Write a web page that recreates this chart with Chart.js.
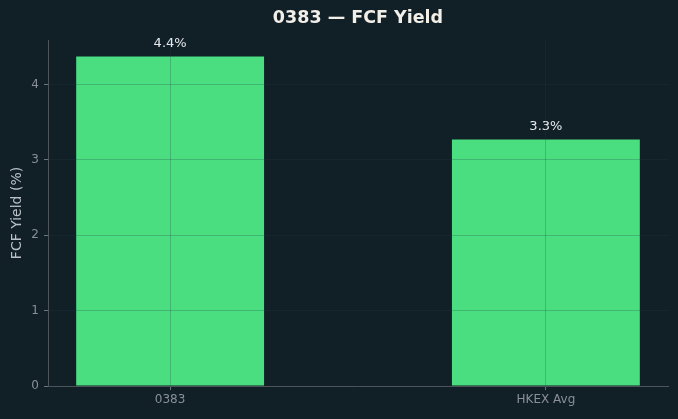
<!DOCTYPE html>
<html>
<head>
<meta charset="utf-8">
<script src="https://cdn.jsdelivr.net/npm/chart.js@4/dist/chart.umd.min.js"></script>
<style>
  html, body { margin: 0; padding: 0; background: #111f27; }
  #wrap { width: 678px; height: 419px; }
</style>
</head>
<body>
<div id="wrap"><canvas id="myChart" width="678" height="419"></canvas></div>
<script>
// chart data
const categories = ['0383', 'HKEX Avg'];
const positions = [0, 1];
const fcfYield = [4.37, 3.27];
const yTicks = [0, 1, 2, 3, 4];
const chartTitle = '0383 \u2014 FCF Yield';
const yLabel = 'FCF Yield (%)';

const fontFamily = "'DejaVu Sans', sans-serif";
const gridColor = 'rgba(40, 60, 70, 0.25)';

// titles and value labels drawn by hand
const extraText = {
    id: 'extraText',
    afterDatasetsDraw(chart) {
        const ctx = chart.ctx;
        const area = chart.chartArea;
        ctx.save();
        // value labels over bars
        ctx.font = '13px ' + fontFamily;
        ctx.fillStyle = '#e6e9ec';
        ctx.textAlign = 'center';
        ctx.textBaseline = 'bottom';
        chart.getDatasetMeta(0).data.forEach((bar, i) => {
            ctx.fillText(fcfYield[i].toFixed(1) + '%', bar.x, bar.y - 6);
        });
        // title
        ctx.font = 'bold 17.5px ' + fontFamily;
        ctx.fillStyle = '#f2efe9';
        ctx.textBaseline = 'middle';
        ctx.fillText(chartTitle, (area.left + area.right) / 2, 18);
        // y axis title
        ctx.translate(17, (area.top + area.bottom) / 2);
        ctx.rotate(-Math.PI / 2);
        ctx.font = '14px ' + fontFamily;
        ctx.fillStyle = '#b9c0c6';
        ctx.fillText(yLabel, 0, 0);
        ctx.restore();
    }
};

new Chart(document.getElementById('myChart'), {
    type: 'bar',
    data: {
        datasets: [{
            data: positions.map((x, i) => ({ x: x, y: fcfYield[i] })),
            backgroundColor: '#4ade80',
            borderWidth: 0,
            categoryPercentage: 1,
            barPercentage: 0.5,
        }]
    },
    options: {
        responsive: false,
        animation: false,
        layout: { padding: { top: 40, right: 10, left: 0, bottom: 0 } },
        plugins: {
            legend: { display: false },
            title: { display: false },
            tooltip: { enabled: false },
        },
        scales: {
            x: {
                type: 'linear',
                min: -0.325,
                max: 1.325,
                offset: false,
                afterBuildTicks: (scale) => { scale.ticks = positions.map(v => ({ value: v })); },
                afterFit: (scale) => { scale.height = 33; },
                ticks: {
                    callback: (v) => categories[positions.indexOf(v)] ?? '',
                    color: '#8a9096',
                    font: { family: fontFamily, size: 12 },
                    padding: 3,
                    maxRotation: 0,
                },
                grid: {
                    z: 1,
                    offset: false,
                    color: gridColor,
                    tickColor: '#6b7278',
                    tickLength: 4,
                },
                border: { z: 2, color: '#4d5459', width: 1 },
            },
            y: {
                min: 0,
                max: 4.59,
                afterBuildTicks: (scale) => { scale.ticks = yTicks.map(v => ({ value: v })); },
                afterFit: (scale) => { scale.width = 48; },
                ticks: {
                    color: '#8a9096',
                    font: { family: fontFamily, size: 12 },
                    padding: 5,
                },
                grid: {
                    z: 1,
                    color: gridColor,
                    tickColor: '#6b7278',
                    tickLength: 4,
                },
                border: { z: 2, color: '#4d5459', width: 1 },
            }
        }
    },
    plugins: [extraText]
});
</script>
</body>
</html>
